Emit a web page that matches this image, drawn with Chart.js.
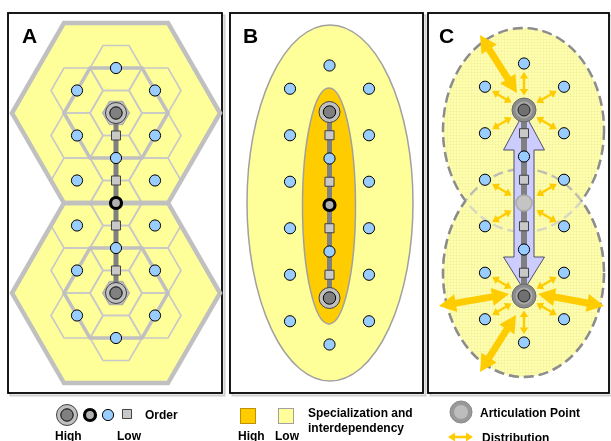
<!DOCTYPE html>
<html><head><meta charset="utf-8">
<script src="https://cdn.jsdelivr.net/npm/chart.js@4/dist/chart.umd.min.js"></script>
<style>html,body{margin:0;padding:0;background:#fff;}canvas{display:block;}</style>
</head><body>
<canvas id="c" width="611" height="441"></canvas>
<script>
// ---------- DATA ----------
// Panel A: central places on a hexagonal lattice
const aHigh   = [[116,113],[116,293]];
const aMid    = [[116,203]];
const aBlue   = [[116,68],[77,90.5],[155,90.5],[77,135.5],[155,135.5],[116,158],[77,180.5],[155,180.5],
                 [77,225.5],[155,225.5],[116,248],[77,270.5],[155,270.5],[77,315.5],[155,315.5],[116,338]];
const aSquare = [[116,135.5],[116,180.5],[116,225.5],[116,270.5]];
const aSpine  = [[116,113],[116,293]];
const aBigHex = [[116,113],[116,293]];
const aMidHex = [[116,113],[116,293]];
const aCells  = [[116,68],[116,113],[116,158],[116,203],[116,248],[116,293],[116,338],
                 [77,90.5],[77,135.5],[77,180.5],[77,225.5],[77,270.5],[77,315.5],
                 [155,90.5],[155,135.5],[155,180.5],[155,225.5],[155,270.5],[155,315.5]];
// Panel B: specialization ellipses
const bHigh   = [[329.5,112],[329.5,298]];
const bMid    = [[329.5,205]];
const bBlue   = [[329.5,65.5],[290,88.75],[369,88.75],[290,135.25],[369,135.25],[329.5,158.5],[290,181.75],[369,181.75],
                 [290,228.25],[369,228.25],[329.5,251.5],[290,274.75],[369,274.75],[290,321.25],[369,321.25],[329.5,344.5]];
const bSquare = [[329.5,135.25],[329.5,181.75],[329.5,228.25],[329.5,274.75]];
const bSpine  = [[329.5,112],[329.5,298]];
const bOuter  = [330,203,83,178];
const bInner  = [329,206,26.5,118];
// Panel C: articulation points and distribution
const cHigh   = [[524,110],[524,296]];
const cFaded  = [[524,203]];
const cBlue   = [[524,63.5],[485,86.75],[564,86.75],[485,133.25],[564,133.25],[524,156.5],[485,179.75],[564,179.75],
                 [485,226.25],[564,226.25],[524,249.5],[485,272.75],[564,272.75],[485,319.25],[564,319.25],[524,342.5]];
const cSquare = [[524,133.25],[524,179.75],[524,226.25],[524,272.75]];
const cSpine  = [[524,110],[524,296]];
const cTopEll = [523.5,130,80.5,102];
const cBotEll = [523.5,273,80.5,104];
const cBigArrowTop = 112, cBigArrowHeadTop = 150, cBigArrowHeadBot = 257, cBigArrowBot = 290;
const cDistBig = [[[480,35],[517,93]],[[439,306],[509,294]],[[538,294],[604,306]],[[480,372],[516,315]]];
const cDistSmall = [
  [[524,110],[524,63.5]],[[524,110],[485,86.75]],[[524,110],[564,86.75]],[[524,110],[485,133.25]],[[524,110],[564,133.25]],
  [[524,203],[485,179.75]],[[524,203],[564,179.75]],[[524,203],[485,226.25]],[[524,203],[564,226.25]],
  [[524,296],[485,272.75]],[[524,296],[564,272.75]],[[524,296],[485,319.25]],[[524,296],[564,319.25]],[[524,296],[524,342.5]]];
// Frames and labels
const panelFrames = [[8,13,222,393],[230,13,423,393],[428,13,609,393]];
const panelLabels = [['A',22,43],['B',243,43],['C',439,43]];
// Legend
const legOrderHigh = [[67,415]], legOrderMid = [[90,415]], legOrderBlue = [[108,415]], legOrderSquare = [[127,414]];
const legSpecHigh = [240,408], legSpecLow = [278,408];
const legArtic = [[461,412]];
const legDist = [[448,437],[473,437]];
const legendTexts = [['Order',145,419],['High',55,440],['Low',117,440],
  ['Specialization and',308,417],['interdependency',308,432],['High',238,440],['Low',275,440],
  ['Articulation Point',480,417],['Distribution',482,442]];

// ---------- CHART ----------
const P = arr => arr.map(([x,y]) => ({x, y}));
const datasets = [];
function mk(arr, o){ datasets.push(Object.assign({data:P(arr), showLine:false, pointStyle:'circle', pointHoverRadius:0}, o)); }
function line(arr, color, w, order){ datasets.push({data:P(arr), showLine:true, pointRadius:0, borderColor:color, borderWidth:w, order}); }

line(aSpine,'#808080',5,50); line(bSpine,'#808080',5,50); line(cSpine,'#808080',6,50);
// squares
mk(aSquare.concat(bSquare, cSquare, legOrderSquare), {pointStyle:'rect', pointRadius:6.4, pointBackgroundColor:'#c8c8c8', pointBorderColor:'#404040', pointBorderWidth:1, order:30});
// blue low-order
mk(aBlue.concat(bBlue, cBlue, legOrderBlue), {pointRadius:5.6, pointBackgroundColor:'#99ccff', pointBorderColor:'#000', pointBorderWidth:1, order:30});
// high order (A,B, legend)
mk(aHigh.concat(bHigh, legOrderHigh), {pointRadius:10.5, pointBackgroundColor:'#c0c0c0', pointBorderColor:'#404040', pointBorderWidth:1, order:20});
mk(aHigh.concat(bHigh, legOrderHigh), {pointRadius:6.2, pointBackgroundColor:'#808080', pointBorderColor:'#000', pointBorderWidth:1, order:15});
// middle order ring
mk(aMid.concat(bMid, legOrderMid), {pointRadius:5.5, pointBackgroundColor:'#b0b0b0', pointBorderColor:'#000', pointBorderWidth:3.2, order:10});
// C articulation points
mk(cHigh, {pointRadius:12, pointBackgroundColor:'#8c8c8c', pointBorderColor:'#6a6a6a', pointBorderWidth:1, order:20});
mk(cHigh, {pointRadius:8.5, pointBackgroundColor:'#a8a8a8', pointBorderColor:'#999', pointBorderWidth:0, order:15});
mk(cHigh, {pointRadius:6, pointBackgroundColor:'#707070', pointBorderColor:'#222', pointBorderWidth:1, order:10});
mk(cFaded, {pointRadius:8, pointBackgroundColor:'#c4c4c4', pointBorderColor:'#a8a8a8', pointBorderWidth:1.5, order:20});
// legend articulation point
mk(legArtic, {pointRadius:11, pointBackgroundColor:'#999999', pointBorderColor:'#8a8a8a', pointBorderWidth:1, order:20});
mk(legArtic, {pointRadius:7, pointBackgroundColor:'#bdbdbd', pointBorderColor:'#bdbdbd', pointBorderWidth:0, order:15});

function makePattern(ctx){
  const pc = document.createElement('canvas'); pc.width = 3; pc.height = 3;
  const g = pc.getContext('2d');
  g.fillStyle = '#ffffad'; g.fillRect(0,0,3,3);
  g.fillStyle = '#f6f6a4'; g.fillRect(0,0,3,1); g.fillRect(0,0,1,3);
  return ctx.createPattern(pc, 'repeat');
}

const diagram = {
  id: 'diagram',
  beforeDatasetsDraw(chart){
    const ctx = chart.ctx, sx = chart.scales.x, sy = chart.scales.y;
    const X = v => sx.getPixelForValue(v), Y = v => sy.getPixelForValue(v);
    const LX = r => Math.abs(X(r) - X(0)), LY = r => Math.abs(Y(r) - Y(0));
    ctx.save();
    ctx.fillStyle = '#fff'; ctx.fillRect(0,0,chart.width,chart.height);
    // frames
    panelFrames.forEach(([x0,y0,x1,y1]) => {
      ctx.strokeStyle = '#cfcfcf'; ctx.lineWidth = 2;
      ctx.strokeRect(X(x0)+2.5, Y(y0)+2.5, X(x1)-X(x0), Y(y1)-Y(y0));
      ctx.fillStyle = '#fff'; ctx.fillRect(X(x0), Y(y0), X(x1)-X(x0), Y(y1)-Y(y0));
      ctx.strokeStyle = '#000'; ctx.lineWidth = 1.8;
      ctx.strokeRect(X(x0), Y(y0), X(x1)-X(x0), Y(y1)-Y(y0));
    });
    const hexPath = (cx, cy, R) => {
      ctx.beginPath();
      for (let k = 0; k < 6; k++) { const a = k*Math.PI/3; ctx.lineTo(X(cx + R*Math.cos(a)), Y(cy + R*Math.sin(a))); }
      ctx.closePath();
    };
    // ---- Panel A
    ctx.lineJoin = 'miter';
    aBigHex.forEach(([cx,cy]) => { hexPath(cx,cy,104); ctx.fillStyle = '#ffff99'; ctx.fill(); });
    ctx.strokeStyle = '#c8c8c8'; ctx.lineWidth = 1.6;
    aCells.forEach(([cx,cy]) => { hexPath(cx,cy,26); ctx.stroke(); });
    ctx.strokeStyle = '#c0c0c0'; ctx.lineWidth = 3.6;
    aMidHex.forEach(([cx,cy]) => { hexPath(cx,cy,52); ctx.stroke(); });
    ctx.lineWidth = 4.5;
    aBigHex.forEach(([cx,cy]) => { hexPath(cx,cy,104); ctx.stroke(); });
    aHigh.forEach(([cx,cy]) => { hexPath(cx,cy,13.5); ctx.fillStyle = '#bcbcbc'; ctx.fill(); ctx.strokeStyle='#a8a8a8'; ctx.lineWidth=1; ctx.stroke(); });
    // ---- Panel B
    const ell = (e) => { ctx.beginPath(); ctx.ellipse(X(e[0]), Y(e[1]), LX(e[2]), LY(e[3]), 0, 0, Math.PI*2); };
    ell(bOuter); ctx.fillStyle = '#ffff99'; ctx.fill(); ctx.strokeStyle = '#a0a0a0'; ctx.lineWidth = 1.5; ctx.stroke();
    ell(bInner); ctx.fillStyle = '#ffcc00'; ctx.fill(); ctx.stroke();
    // ---- Panel C
    const pat = makePattern(ctx);
    ell(cTopEll); ctx.fillStyle = pat; ctx.fill();
    ell(cBotEll); ctx.fill();
    ctx.setLineDash([10,5]); ctx.lineWidth = 2.4;
    ctx.strokeStyle = '#d6d6c4'; ell(cTopEll); ctx.stroke();
    ctx.strokeStyle = '#bdbdb4'; ell(cBotEll); ctx.stroke();
    const strokeOutside = (e, other) => {
      ctx.save(); ctx.beginPath(); ctx.rect(0,0,chart.width,chart.height);
      ctx.ellipse(X(other[0]), Y(other[1]), LX(other[2]), LY(other[3]), 0, 0, Math.PI*2);
      ctx.clip('evenodd'); ctx.strokeStyle = '#8c8c8c'; ell(e); ctx.stroke(); ctx.restore();
    };
    strokeOutside(cTopEll, cBotEll); strokeOutside(cBotEll, cTopEll);
    ctx.setLineDash([]);
    // lavender double arrow
    const ax = cSpine[0][0];
    const arr = [[ax,cBigArrowTop],[ax+20.5,cBigArrowHeadTop],[ax+10,cBigArrowHeadTop],[ax+10,cBigArrowHeadBot],[ax+20.5,cBigArrowHeadBot],
                 [ax,cBigArrowBot],[ax-20.5,cBigArrowHeadBot],[ax-10,cBigArrowHeadBot],[ax-10,cBigArrowHeadTop],[ax-20.5,cBigArrowHeadTop]];
    ctx.beginPath(); arr.forEach(([x,y]) => ctx.lineTo(X(x), Y(y))); ctx.closePath();
    ctx.fillStyle = '#ccccff'; ctx.fill(); ctx.strokeStyle = '#50506a'; ctx.lineWidth = 1; ctx.stroke();
    // gold distribution arrows
    const dbl = (p1, p2, sw, hl, hw) => {
      const x1 = X(p1[0]), y1 = Y(p1[1]), x2 = X(p2[0]), y2 = Y(p2[1]);
      const L = Math.hypot(x2-x1, y2-y1), ux = (x2-x1)/L, uy = (y2-y1)/L, nx = -uy, ny = ux;
      const a = [x1+ux*hl, y1+uy*hl], b = [x2-ux*hl, y2-uy*hl];
      ctx.beginPath();
      ctx.moveTo(x1,y1);
      ctx.lineTo(a[0]+nx*hw, a[1]+ny*hw); ctx.lineTo(a[0]+nx*sw, a[1]+ny*sw);
      ctx.lineTo(b[0]+nx*sw, b[1]+ny*sw); ctx.lineTo(b[0]+nx*hw, b[1]+ny*hw);
      ctx.lineTo(x2,y2);
      ctx.lineTo(b[0]-nx*hw, b[1]-ny*hw); ctx.lineTo(b[0]-nx*sw, b[1]-ny*sw);
      ctx.lineTo(a[0]-nx*sw, a[1]-ny*sw); ctx.lineTo(a[0]-nx*hw, a[1]-ny*hw);
      ctx.closePath(); ctx.fillStyle = '#ffcc00'; ctx.fill();
    };
    cDistBig.forEach(([p1,p2]) => dbl(p1,p2,3.5,17,9));
    cDistSmall.forEach(([c,n]) => {
      const dx = n[0]-c[0], dy = n[1]-c[1], L = Math.hypot(dx,dy), ux = dx/L, uy = dy/L;
      dbl([c[0]+ux*14.5, c[1]+uy*14.5], [n[0]-ux*8.5, n[1]-uy*8.5], 1.2, 6.5, 4.3);
    });
    dbl(legDist[0], legDist[1], 1.3, 7, 4.5);
    // legend squares
    [[legSpecHigh,'#ffcc00','#c09000'],[legSpecLow,'#ffff99','#a0a0a0']].forEach(([p,f,s]) => {
      ctx.fillStyle = f; ctx.fillRect(X(p[0]), Y(p[1]), LX(15), LY(15));
      ctx.strokeStyle = s; ctx.lineWidth = 1; ctx.strokeRect(X(p[0])+0.5, Y(p[1])+0.5, LX(15), LY(15));
    });
    ctx.restore();
  },
  afterDraw(chart){
    const ctx = chart.ctx, sx = chart.scales.x, sy = chart.scales.y;
    ctx.save(); ctx.fillStyle = '#000'; ctx.textAlign = 'left'; ctx.textBaseline = 'alphabetic';
    ctx.font = 'bold 21px "Liberation Sans", Arial, sans-serif';
    panelLabels.forEach(([t,x,y]) => ctx.fillText(t, sx.getPixelForValue(x), sy.getPixelForValue(y)));
    ctx.font = 'bold 12px "Liberation Sans", Arial, sans-serif';
    legendTexts.forEach(([t,x,y]) => ctx.fillText(t, sx.getPixelForValue(x), sy.getPixelForValue(y)));
    ctx.restore();
  }
};

new Chart(document.getElementById('c'), {
  type: 'scatter',
  data: { datasets },
  options: {
    responsive: false, animation: false, events: [],
    layout: { padding: 0, autoPadding: false },
    plugins: { legend: { display: false }, tooltip: { enabled: false } },
    scales: {
      x: { type: 'linear', min: 0, max: 611, display: false },
      y: { type: 'linear', min: 0, max: 441, reverse: true, display: false }
    }
  },
  plugins: [diagram]
});
</script>
</body></html>
